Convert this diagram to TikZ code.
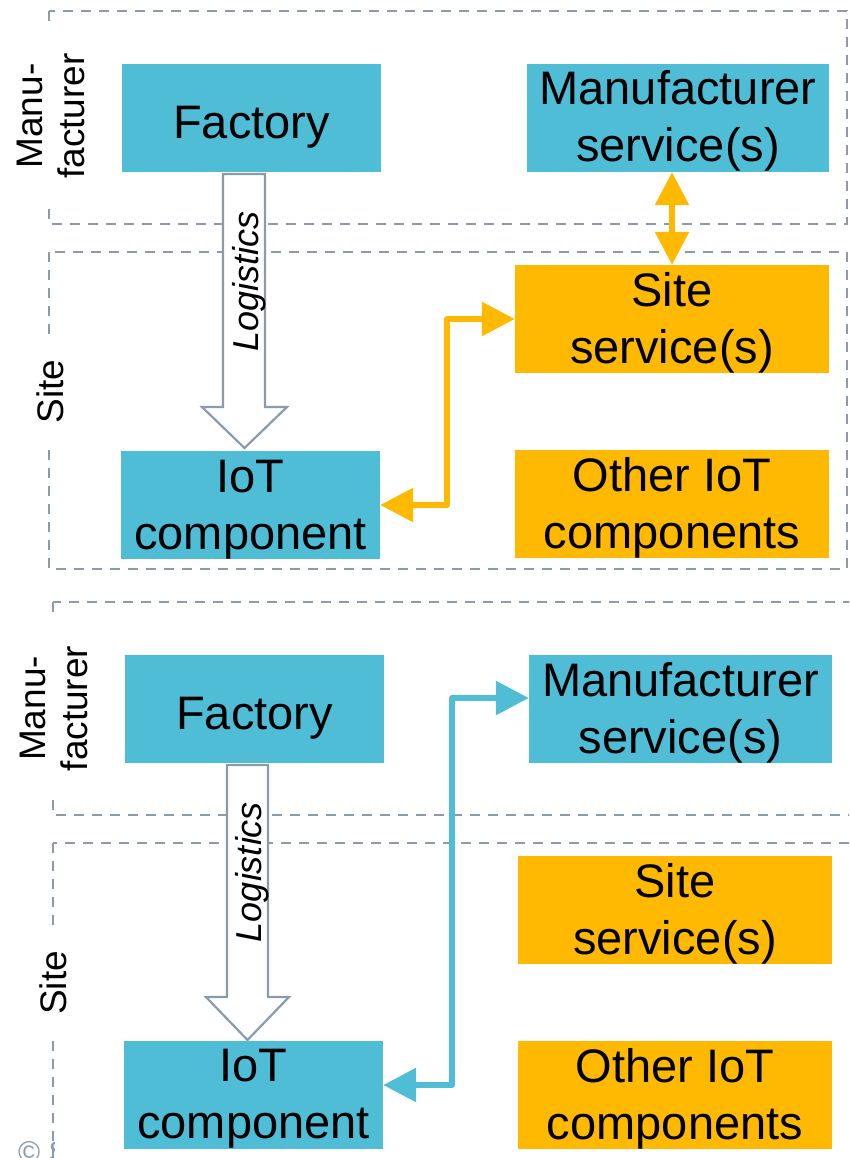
\documentclass[tikz,border=0pt]{standalone}
\usepackage{fontspec}
\setmainfont{Liberation Sans}
\usetikzlibrary{arrows.meta}
\definecolor{tealbox}{HTML}{50BDD7}
\definecolor{ambox}{HTML}{FFB900}
\definecolor{frame}{HTML}{8A9BAB}
\tikzset{
  zone/.style={draw=frame, line width=2.4pt, dash pattern=on 10pt off 8pt},
  zonelabel/.style={rotate=90, anchor=base, fill=white, inner xsep=26pt, inner ysep=2pt,
    align=center, font=\fontsize{37}{42}\selectfont},
  box/.style={rectangle, inner sep=0pt, minimum height=108pt, align=center,
    font=\fontsize{47}{57}\selectfont, text height=88pt, text depth=0pt},
  onebox/.style={text height=41pt},
  cyanbox/.style={box, fill=tealbox},
  amberbox/.style={box, fill=ambox},
  link/.style={line width=6pt, line join=round,
    {Triangle[length=33pt,width=33pt]}-{Triangle[length=33pt,width=33pt]}},
  hollow/.style={draw=frame, line width=2.2pt, fill=white, line join=miter},
  logi/.style={rotate=90, anchor=base, inner sep=0pt,
    font=\fontsize{36}{43}\selectfont\itshape}
}
\begin{document}
\begin{tikzpicture}[x=1pt, y=-1pt]
\useasboundingbox (0,0) rectangle (849,1158);
\clip (0,0) rectangle (849,1158);

% ---- upper scenario: dashed zones ----
\draw[zone] (49,11) rectangle (847,224);
\draw[zone] (49,252) rectangle (847,569);
\node[zonelabel] (manu1) at (84,116) {Manu-\\facturer};
\node[zonelabel] (site1) at (63,391.5) {Site};

% ---- lower scenario: dashed zones ----
\draw[zone] (53,602) rectangle (870,815);
\draw[zone] (53,843) rectangle (870,1180);
\node[zonelabel] (manu2) at (87,708.5) {Manu-\\facturer};
\node[zonelabel] (site2) at (66,983) {Site};

% ---- logistics block arrows ----
\draw[hollow] (223,174) -- (265,174) -- (265,407) -- (287,407) -- (244.5,448)
  -- (202,407) -- (223,407) -- cycle;
\node[logi] (log1) at (258,281.5) {Logistics};
\draw[hollow] (227,765) -- (268,765) -- (268,997) -- (289,997) -- (247.5,1040)
  -- (206,997) -- (227,997) -- cycle;
\node[logi] (log2) at (261,872) {Logistics};

% ---- upper scenario: components ----
\node[cyanbox, onebox, minimum width=259pt] (fac1) at (251.5,118) {Factory};
\node[cyanbox, minimum width=302pt] (ms1) at (678,118) {Manufacturer\\service(s)};
\node[amberbox, minimum width=314pt] (ss1) at (672,319) {Site\\service(s)};
\node[amberbox, minimum width=314pt] (oi1) at (672,504) {Other IoT\\components};
\node[cyanbox, minimum width=259pt] (iot1) at (250.5,505) {IoT\\component};

\draw[link, color=ambox] (ss1.north) -- (ss1.north |- ms1.south);
\draw[link, color=ambox] (iot1.east) -- ++(67,0) |- (ss1.west);

% ---- lower scenario: components ----
\node[cyanbox, onebox, minimum width=259pt] (fac2) at (254.5,709) {Factory};
\node[cyanbox, minimum width=303pt] (ms2) at (680.5,709) {Manufacturer\\service(s)};
\node[amberbox, minimum width=314pt] (ss2) at (675,910) {Site\\service(s)};
\node[amberbox, minimum width=314pt] (oi2) at (675,1095) {Other IoT\\components};
\node[cyanbox, minimum width=259pt] (iot2) at (253.5,1094.5) {IoT\\component};

\draw[link, color=tealbox] ([yshift=9.5pt]iot2.east) -- ++(69,0) |- ([yshift=11pt]ms2.west);

% ---- footer ----
\begin{scope}
  \clip (0,1125) rectangle (54,1158);
  \node[anchor=base west, inner sep=0pt, text=frame, font=\fontsize{30}{36}\selectfont]
    (copy) at (18,1162) {© S};
\end{scope}
\end{tikzpicture}
\end{document}
